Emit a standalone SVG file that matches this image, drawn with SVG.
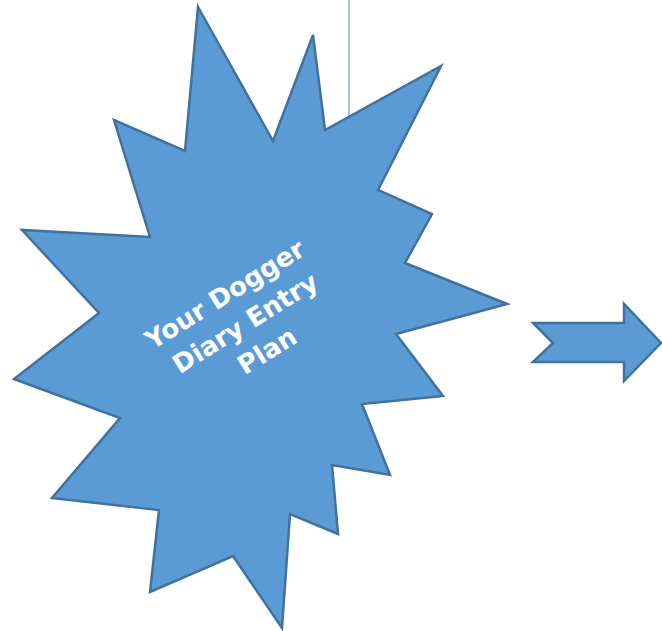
<svg xmlns="http://www.w3.org/2000/svg" width="662" height="631" viewBox="0 0 662 631">
<style>
.shape{fill:#5b9bd5;stroke:#41719c;stroke-width:2.5;stroke-linejoin:miter}
.lbl{font-family:"DejaVu Sans",sans-serif;font-weight:bold;font-size:26px;fill:#ffffff;text-anchor:middle}
</style>
<g id="connectors">
<line x1="349" y1="0" x2="349" y2="120" stroke="#5b9bd5" stroke-width="1.2"/>
</g>
<g id="starburst">
<polygon class="shape" points="198,7 273,141 313,35 325,130 441,66 378,190 432,214 405,263 507,304 396,334 443,396 362,404 390,475 332,465 338,534 290,514 282,628 233,556 150,592 159,510 52,498 120,418 14,379 99,313 22,230 150,237 114,120 185,151"/>
<g transform="translate(244,325) rotate(-32)">
<text class="lbl" x="0" y="-27">Your Dogger</text>
<text class="lbl" x="2" y="8">Diary Entry</text>
<text class="lbl" x="6" y="43">Plan</text>
</g>
</g>
<g id="arrow">
<polygon class="shape" points="533,323 624,323 624,304 661,343 624,381 624,362 533,362 553,343"/>
</g>
</svg>
